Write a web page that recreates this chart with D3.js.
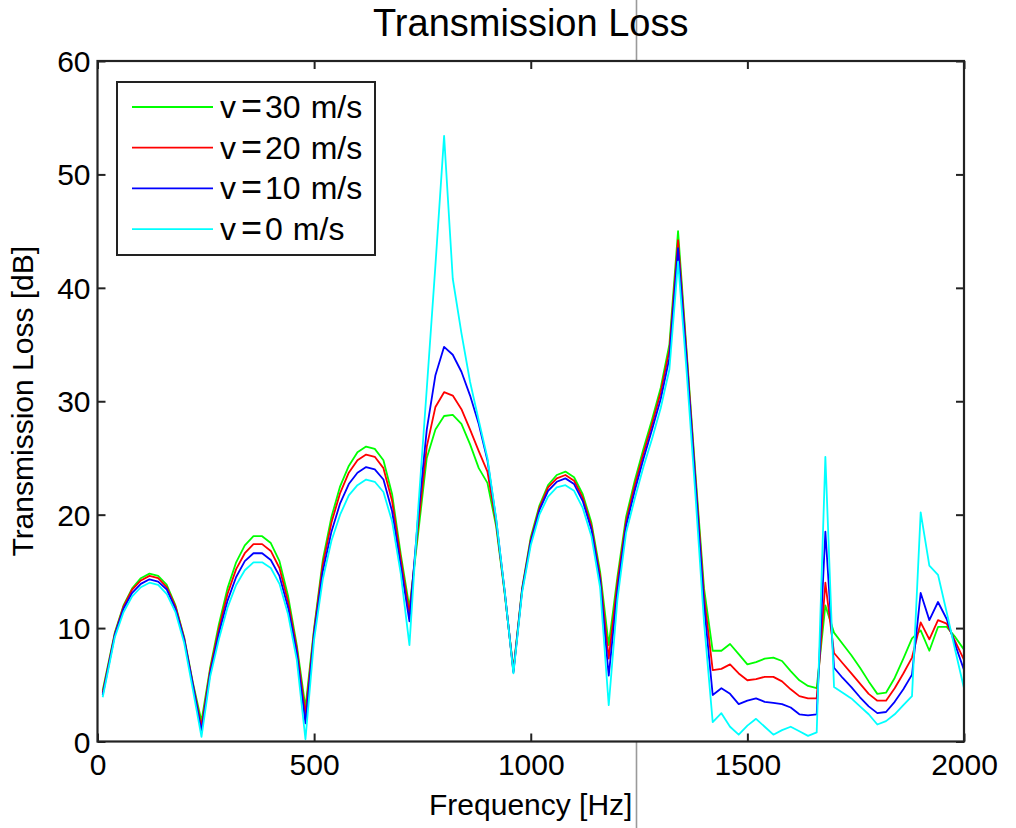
<!DOCTYPE html>
<html>
<head>
<meta charset="utf-8">
<script src="https://cdn.jsdelivr.net/npm/d3@7"></script>
<style>
  html, body { margin: 0; padding: 0; background: #fff; }
  svg { display: block; font-family: "Liberation Sans", Arial, sans-serif; }
</style>
</head>
<body>
<svg id="chart" width="1016" height="828"></svg>
<script>
const freq = [12, 40, 60, 80, 100, 120, 140, 160, 180, 200, 220, 240, 260, 280, 300, 320, 340, 360, 380, 400,
  420, 440, 460, 480, 500, 520, 540, 560, 580, 600, 620, 640, 660, 680, 700, 720, 740, 760, 780, 800,
  820, 840, 860, 880, 900, 920, 940, 960, 980, 1000, 1020, 1040, 1060, 1080, 1100, 1120, 1140, 1160, 1180, 1200,
  1220, 1240, 1260, 1280, 1300, 1320, 1340, 1360, 1380, 1400, 1420, 1440, 1460, 1480, 1500, 1520, 1540, 1560, 1580, 1600,
  1620, 1640, 1660, 1680, 1700, 1720, 1740, 1760, 1780, 1800, 1820, 1840, 1860, 1880, 1900, 1920, 1940, 1960, 1980, 2000];

const tl30 = [4.5, 9.6, 12.0, 13.5, 14.4, 14.8, 14.6, 13.8, 12.0, 9.2, 5.2, 1.8, 6.5, 10.3, 13.5, 15.8, 17.3, 18.1, 18.1, 17.5,
  15.9, 12.8, 8.5, 3.0, 10.0, 16.0, 19.8, 22.5, 24.3, 25.5, 26.0, 25.8, 24.8, 21.8, 16.5, 11.8, 18.3, 25.0, 27.5, 28.7,
  28.8, 28.0, 26.2, 24.1, 22.8, 19.0, 13.0, 6.3, 13.5, 18.0, 20.8, 22.6, 23.5, 23.8, 23.3, 21.8, 19.3, 15.0, 8.5, 14.5,
  19.8, 23.0, 25.8, 28.4, 31.2, 35.0, 45.0, 34.3, 23.7, 13.5, 8.0, 8.0, 8.6, 7.7, 6.8, 7.0, 7.3, 7.4, 7.1, 6.2,
  5.4, 4.9, 4.7, 12.0, 9.6, 8.6, 7.6, 6.5, 5.3, 4.2, 4.3, 5.6, 7.3, 9.1, 9.8, 8.0, 10.1, 10.1, 9.2, 8.1];

const tl20 = [4.3, 9.5, 11.9, 13.4, 14.2, 14.6, 14.4, 13.6, 11.9, 9.1, 5.1, 1.3, 6.3, 9.9, 13.0, 15.2, 16.6, 17.4, 17.4, 16.8,
  15.3, 12.3, 8.2, 2.4, 9.8, 15.6, 19.3, 21.9, 23.7, 24.8, 25.3, 25.1, 24.1, 21.2, 16.1, 11.3, 19.0, 26.0, 29.5, 30.8,
  30.5, 29.3, 27.5, 25.6, 23.8, 19.3, 13.1, 6.2, 13.4, 17.8, 20.6, 22.4, 23.2, 23.5, 23.0, 21.5, 19.0, 14.6, 7.3, 14.0,
  19.4, 22.6, 25.4, 28.0, 30.8, 34.5, 44.2, 34.0, 23.3, 12.8, 6.3, 6.4, 6.8, 6.0, 5.4, 5.5, 5.7, 5.7, 5.3, 4.6,
  4.0, 3.8, 3.8, 14.0, 7.8, 6.9, 6.0, 5.1, 4.2, 3.6, 3.6, 4.7, 6.0, 7.4, 10.5, 9.0, 10.7, 10.4, 8.8, 7.2];

const tl10 = [4.1, 9.4, 11.7, 13.1, 13.9, 14.3, 14.1, 13.4, 11.7, 9.0, 5.0, 0.9, 6.0, 9.5, 12.4, 14.5, 15.9, 16.6, 16.6, 16.0,
  14.6, 11.8, 7.8, 1.6, 9.5, 15.0, 18.5, 21.0, 22.7, 23.7, 24.2, 24.0, 23.1, 20.3, 15.5, 10.6, 19.8, 27.5, 32.3, 34.8,
  34.1, 32.6, 30.5, 28.0, 24.8, 19.6, 13.2, 6.1, 13.3, 17.6, 20.4, 22.1, 22.9, 23.2, 22.7, 21.2, 18.7, 14.2, 5.8, 13.3,
  19.0, 22.1, 24.9, 27.5, 30.2, 33.8, 43.5, 33.5, 22.8, 12.0, 4.1, 4.7, 4.2, 3.3, 3.6, 3.8, 3.5, 3.4, 3.3, 3.0,
  2.4, 2.3, 2.4, 18.5, 6.5, 5.6, 4.8, 3.9, 3.1, 2.5, 2.6, 3.5, 4.6, 5.9, 13.1, 10.7, 12.3, 10.8, 8.5, 6.3];

const tl0 = [3.9, 9.2, 11.4, 12.8, 13.6, 14.0, 13.8, 13.0, 11.4, 8.7, 4.6, 0.4, 5.7, 9.0, 11.8, 13.8, 15.1, 15.8, 15.8, 15.3,
  13.9, 11.2, 7.2, 0.2, 9.0, 14.3, 17.7, 20.0, 21.7, 22.6, 23.1, 22.9, 22.0, 19.4, 14.8, 8.5, 20.4, 31.1, 42.0, 53.4,
  40.8, 36.0, 31.7, 28.3, 25.0, 19.7, 13.2, 6.0, 13.1, 17.3, 20.0, 21.6, 22.4, 22.6, 22.1, 20.6, 18.1, 13.6, 3.2, 12.5,
  18.4, 21.4, 24.2, 26.7, 29.4, 32.8, 42.3, 32.5, 21.8, 10.5, 1.7, 2.5, 1.3, 0.6, 1.4, 2.0, 1.3, 0.6, 1.0, 1.3,
  0.9, 0.5, 0.8, 25.1, 4.8, 4.3, 3.8, 3.1, 2.4, 1.5, 1.8, 2.4, 3.2, 4.0, 20.2, 15.5, 14.7, 11.4, 8.0, 4.7];

const speeds = ["30", "20", "10", "0"];
const seriesColors = ["#00ff00", "#ff0000", "#0000ff", "#00ffff"];
const seriesValues = [tl30, tl20, tl10, tl0];
const xTicks = [0, 500, 1000, 1500, 2000];
const yTicks = [0, 10, 20, 30, 40, 50, 60];

const title = "Transmission Loss";
const xLabel = "Frequency [Hz]";
const yLabel = "Transmission Loss [dB]";

const svg = d3.select("#chart");
const L = 97.5, R = 964, T = 61, B = 741.5;

const x = d3.scaleLinear().domain([0, 2000]).range([L, R]);
const y = d3.scaleLinear().domain([0, 60]).range([B, T]);

// vertical gray line present in the scanned reference
svg.append("line").attr("x1", 636.5).attr("x2", 636.5).attr("y1", 0).attr("y2", 828)
  .attr("stroke", "#9a9a9a").attr("stroke-width", 1.6);

// plot background
svg.append("rect").attr("x", L).attr("y", T).attr("width", R - L).attr("height", B - T).attr("fill", "#fff");

// lines
const line = d3.line().x((d, i) => x(freq[i])).y(d => y(d));
seriesValues.forEach((vals, k) => {
  svg.append("path").datum(vals).attr("d", line)
    .attr("fill", "none").attr("stroke", seriesColors[k]).attr("stroke-width", 1.8)
    .attr("stroke-linejoin", "round");
});

// axes (ticks inside)
const fontSize = 30;
const fmt = d3.format("d");
const axB = svg.append("g").attr("transform", `translate(0,${B})`)
  .call(d3.axisBottom(x).tickValues(xTicks).tickFormat(fmt).tickSizeInner(-8).tickSizeOuter(0).tickPadding(12));
const axL = svg.append("g").attr("transform", `translate(${L},0)`)
  .call(d3.axisLeft(y).tickValues(yTicks).tickFormat(fmt).tickSizeInner(-8).tickSizeOuter(0).tickPadding(7));
const axT = svg.append("g").attr("transform", `translate(0,${T})`)
  .call(d3.axisTop(x).tickValues(xTicks).tickSizeInner(-8).tickSizeOuter(0).tickFormat(""));
const axR = svg.append("g").attr("transform", `translate(${R},0)`)
  .call(d3.axisRight(y).tickValues(yTicks).tickSizeInner(-8).tickSizeOuter(0).tickFormat(""));

[axB, axL, axT, axR].forEach(g => {
  g.select(".domain").remove();
  g.selectAll(".tick line").attr("stroke", "#222").attr("stroke-width", 2);
  g.selectAll(".tick text").attr("font-size", fontSize).attr("fill", "#000")
    .attr("font-family", "'Liberation Sans', Arial, sans-serif");
});
axL.selectAll(".tick text").attr("dy", "0.35em");

// frame
svg.append("rect").attr("x", L).attr("y", T).attr("width", R - L).attr("height", B - T)
  .attr("fill", "none").attr("stroke", "#222").attr("stroke-width", 2.2);

// title and labels
svg.append("text").attr("x", (L + R) / 2).attr("y", 36).attr("text-anchor", "middle")
  .attr("font-size", 38).attr("fill", "#000").text(title);
svg.append("text").attr("x", (L + R) / 2).attr("y", 815).attr("text-anchor", "middle")
  .attr("font-size", 30).attr("fill", "#000").text(xLabel);
svg.append("text").attr("transform", `translate(33,${(T + B) / 2}) rotate(-90)`).attr("text-anchor", "middle")
  .attr("font-size", 30).attr("fill", "#000").text(yLabel);

// legend
const lg = svg.append("g");
lg.append("rect").attr("x", 117).attr("y", 82).attr("width", 258).attr("height", 173)
  .attr("fill", "#fff").attr("stroke", "#222").attr("stroke-width", 2);
speeds.forEach((sp, k) => {
  const yy = 107 + k * 40.7;
  lg.append("line").attr("x1", 132).attr("x2", 213).attr("y1", yy).attr("y2", yy)
    .attr("stroke", seriesColors[k]).attr("stroke-width", 1.8);
  const t = lg.append("text").attr("x", 220).attr("y", yy + 11).attr("font-size", 32).attr("fill", "#000");
  t.append("tspan").text("v");
  t.append("tspan").attr("dx", 5).attr("font-size", 36).text("=");
  t.append("tspan").attr("dx", 3).text(sp);
  t.append("tspan").attr("dx", 10).text("m/s");
});
</script>
</body>
</html>
